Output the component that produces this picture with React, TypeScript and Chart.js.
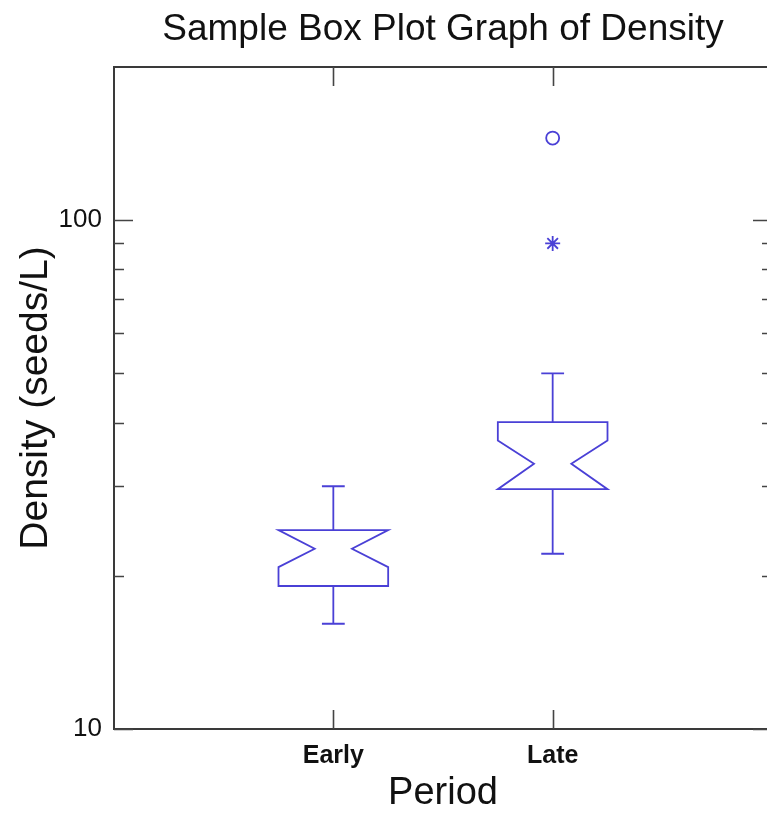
import React, { useEffect, useRef } from "react";
import { Chart, registerables } from "chart.js";

Chart.register(...registerables);

// ---- data ----
const categories = ["Early", "Late"];
const whiskerLow = [16.1, 22.1];
const q1 = [19.1, 29.6];
const median = [22.6, 33.2];
const q3 = [24.6, 40.1];
const whiskerHigh = [30, 50];
const notchLow = [20.8, 29.6];
const notchHigh = [24.6, 36.9];
const starOutlierCategory = [2];
const starOutlierValues = [90];
const circleOutlierCategory = [2];
const circleOutlierValues = [145];
const yTickLabels = [10, 100];
const yMinorTicks = [20, 30, 40, 50, 60, 70, 80, 90];
const Y_MIN = 10;
const Y_MAX = 200;

// ---- style ----
const BLUE = "#4a40d6";
const FRAME = "#3a3a3a";
const FONT = "'Liberation Sans', Arial, sans-serif";
const BOX_HALF = 0.25; // in x-axis units
const NOTCH_HALF = 0.085;
const CAP_HALF = 0.052;
const MAJOR_LEN = 19;
const MINOR_LEN = 10;
const MARK_WIDTH = 1.8;

const framePlugin = {
  id: "frameTicks",
  beforeDatasetsDraw(chart: any) {
    const { ctx, chartArea: a, scales } = chart;
    const x = scales.x;
    const y = scales.y;
    ctx.save();
    ctx.strokeStyle = FRAME;
    ctx.lineWidth = 2;
    ctx.beginPath();
    ctx.moveTo(a.left, a.bottom);
    ctx.lineTo(a.left, a.top);
    ctx.lineTo(a.right, a.top);
    ctx.lineTo(a.right, a.bottom);
    ctx.lineTo(a.left, a.bottom);
    ctx.closePath();
    ctx.stroke();

    ctx.lineWidth = 1.6;
    ctx.strokeStyle = "#444";
    ctx.beginPath();
    yTickLabels.forEach((v) => {
      const py = Math.round(y.getPixelForValue(v)) + 0.5;
      ctx.moveTo(a.left, py);
      ctx.lineTo(a.left + MAJOR_LEN, py);
      ctx.moveTo(a.right, py);
      ctx.lineTo(a.right - MAJOR_LEN, py);
    });
    yMinorTicks.forEach((v) => {
      const py = Math.round(y.getPixelForValue(v)) + 0.5;
      ctx.moveTo(a.left, py);
      ctx.lineTo(a.left + MINOR_LEN, py);
      ctx.moveTo(a.right, py);
      ctx.lineTo(a.right - MINOR_LEN, py);
    });
    categories.forEach((_, i) => {
      const px = Math.round(x.getPixelForValue(i + 1)) + 0.5;
      ctx.moveTo(px, a.bottom);
      ctx.lineTo(px, a.bottom - MAJOR_LEN);
      ctx.moveTo(px, a.top);
      ctx.lineTo(px, a.top + MAJOR_LEN);
    });
    ctx.stroke();
    ctx.restore();
  },
};

const boxPlugin = {
  id: "notchedBoxes",
  afterDatasetsDraw(chart: any) {
    const { ctx, scales } = chart;
    const x = scales.x;
    const y = scales.y;
    const py = (v: number) => y.getPixelForValue(v);
    ctx.save();
    ctx.strokeStyle = BLUE;
    ctx.lineWidth = MARK_WIDTH;
    ctx.lineJoin = "miter";
    categories.forEach((_, i) => {
      const c = i + 1;
      const cx = x.getPixelForValue(c);
      const L = x.getPixelForValue(c - BOX_HALF);
      const R = x.getPixelForValue(c + BOX_HALF);
      const nL = x.getPixelForValue(c - NOTCH_HALF);
      const nR = x.getPixelForValue(c + NOTCH_HALF);
      const cL = x.getPixelForValue(c - CAP_HALF);
      const cR = x.getPixelForValue(c + CAP_HALF);
      ctx.beginPath();
      ctx.moveTo(L, py(q3[i]));
      ctx.lineTo(R, py(q3[i]));
      ctx.lineTo(R, py(notchHigh[i]));
      ctx.lineTo(nR, py(median[i]));
      ctx.lineTo(R, py(notchLow[i]));
      ctx.lineTo(R, py(q1[i]));
      ctx.lineTo(L, py(q1[i]));
      ctx.lineTo(L, py(notchLow[i]));
      ctx.lineTo(nL, py(median[i]));
      ctx.lineTo(L, py(notchHigh[i]));
      ctx.closePath();
      ctx.stroke();

      ctx.beginPath();
      ctx.moveTo(cx, py(q3[i]));
      ctx.lineTo(cx, py(whiskerHigh[i]));
      ctx.moveTo(cL, py(whiskerHigh[i]));
      ctx.lineTo(cR, py(whiskerHigh[i]));
      ctx.moveTo(cx, py(q1[i]));
      ctx.lineTo(cx, py(whiskerLow[i]));
      ctx.moveTo(cL, py(whiskerLow[i]));
      ctx.lineTo(cR, py(whiskerLow[i]));
      ctx.stroke();
    });
    ctx.restore();
  },
};

export default function App() {
  const ref = useRef<HTMLCanvasElement | null>(null);

  useEffect(() => {
    if (!ref.current) return;
    const chart = new Chart(ref.current, {
      type: "scatter",
      data: {
        datasets: [
          {
            label: "star outliers",
            data: starOutlierValues.map((v, k) => ({ x: starOutlierCategory[k], y: v })),
            pointStyle: "star",
            radius: 7.5,
            borderColor: BLUE,
            backgroundColor: "transparent",
            borderWidth: MARK_WIDTH,
          },
          {
            label: "circle outliers",
            data: circleOutlierValues.map((v, k) => ({ x: circleOutlierCategory[k], y: v })),
            pointStyle: "circle",
            radius: 6.5,
            borderColor: BLUE,
            backgroundColor: "transparent",
            borderWidth: MARK_WIDTH,
          },
        ],
      },
      options: {
        animation: false,
        responsive: true,
        maintainAspectRatio: false,
        layout: { padding: { left: 0, right: 28, top: 0, bottom: 0 } },
        plugins: {
          legend: { display: false },
          tooltip: { enabled: false },
          title: {
            display: true,
            fullSize: false,
            text: "Sample Box Plot Graph of Density",
            color: "#111",
            font: { family: FONT, size: 37, weight: "normal", lineHeight: 1.2 },
            padding: { top: 8, bottom: 14.6 },
          },
        },
        scales: {
          x: {
            type: "linear",
            position: "bottom",
            min: 0,
            max: 3,
            grid: { display: false, drawTicks: false },
            border: { display: false },
            afterBuildTicks: (scale: any) => {
              scale.ticks = categories.map((_, i) => ({ value: i + 1 }));
            },
            afterFit: (scale: any) => {
              scale.height = 85;
            },
            ticks: {
              padding: 12,
              color: "#111",
              font: { family: FONT, size: 25, weight: "bold", lineHeight: 1.2 },
              callback: (v: any) => categories[Math.round(Number(v)) - 1] ?? "",
              maxRotation: 0,
              autoSkip: false,
            },
            title: {
              display: true,
              text: "Period",
              color: "#111",
              font: { family: FONT, size: 38, weight: "normal", lineHeight: 1 },
              padding: { top: 0, bottom: 1 },
            },
          },
          y: {
            type: "logarithmic",
            position: "left",
            min: Y_MIN,
            max: Y_MAX,
            grid: { display: false, drawTicks: false },
            border: { display: false },
            afterBuildTicks: (scale: any) => {
              scale.ticks = yTickLabels.map((v) => ({ value: v }));
            },
            afterFit: (scale: any) => {
              scale.width = 114;
            },
            ticks: {
              padding: 12,
              color: "#111",
              font: { family: FONT, size: 26, weight: "normal", lineHeight: 1.2 },
              callback: (v: any) => String(v),
              autoSkip: false,
            },
            title: {
              display: true,
              text: "Density (seeds/L)",
              color: "#111",
              font: { family: FONT, size: 39, weight: "normal", lineHeight: 1.2 },
              padding: { top: 12.6, bottom: 0 },
            },
          },
        },
      } as any,
      plugins: [framePlugin, boxPlugin],
    } as any);
    return () => chart.destroy();
  }, []);

  return (
    <div
      style={{
        position: "fixed",
        left: 0,
        top: 0,
        width: 767,
        height: 814,
        overflow: "hidden",
        background: "#fff",
      }}
    >
      <div style={{ position: "relative", width: 800, height: 814 }}>
        <canvas ref={ref} />
      </div>
    </div>
  );
}
